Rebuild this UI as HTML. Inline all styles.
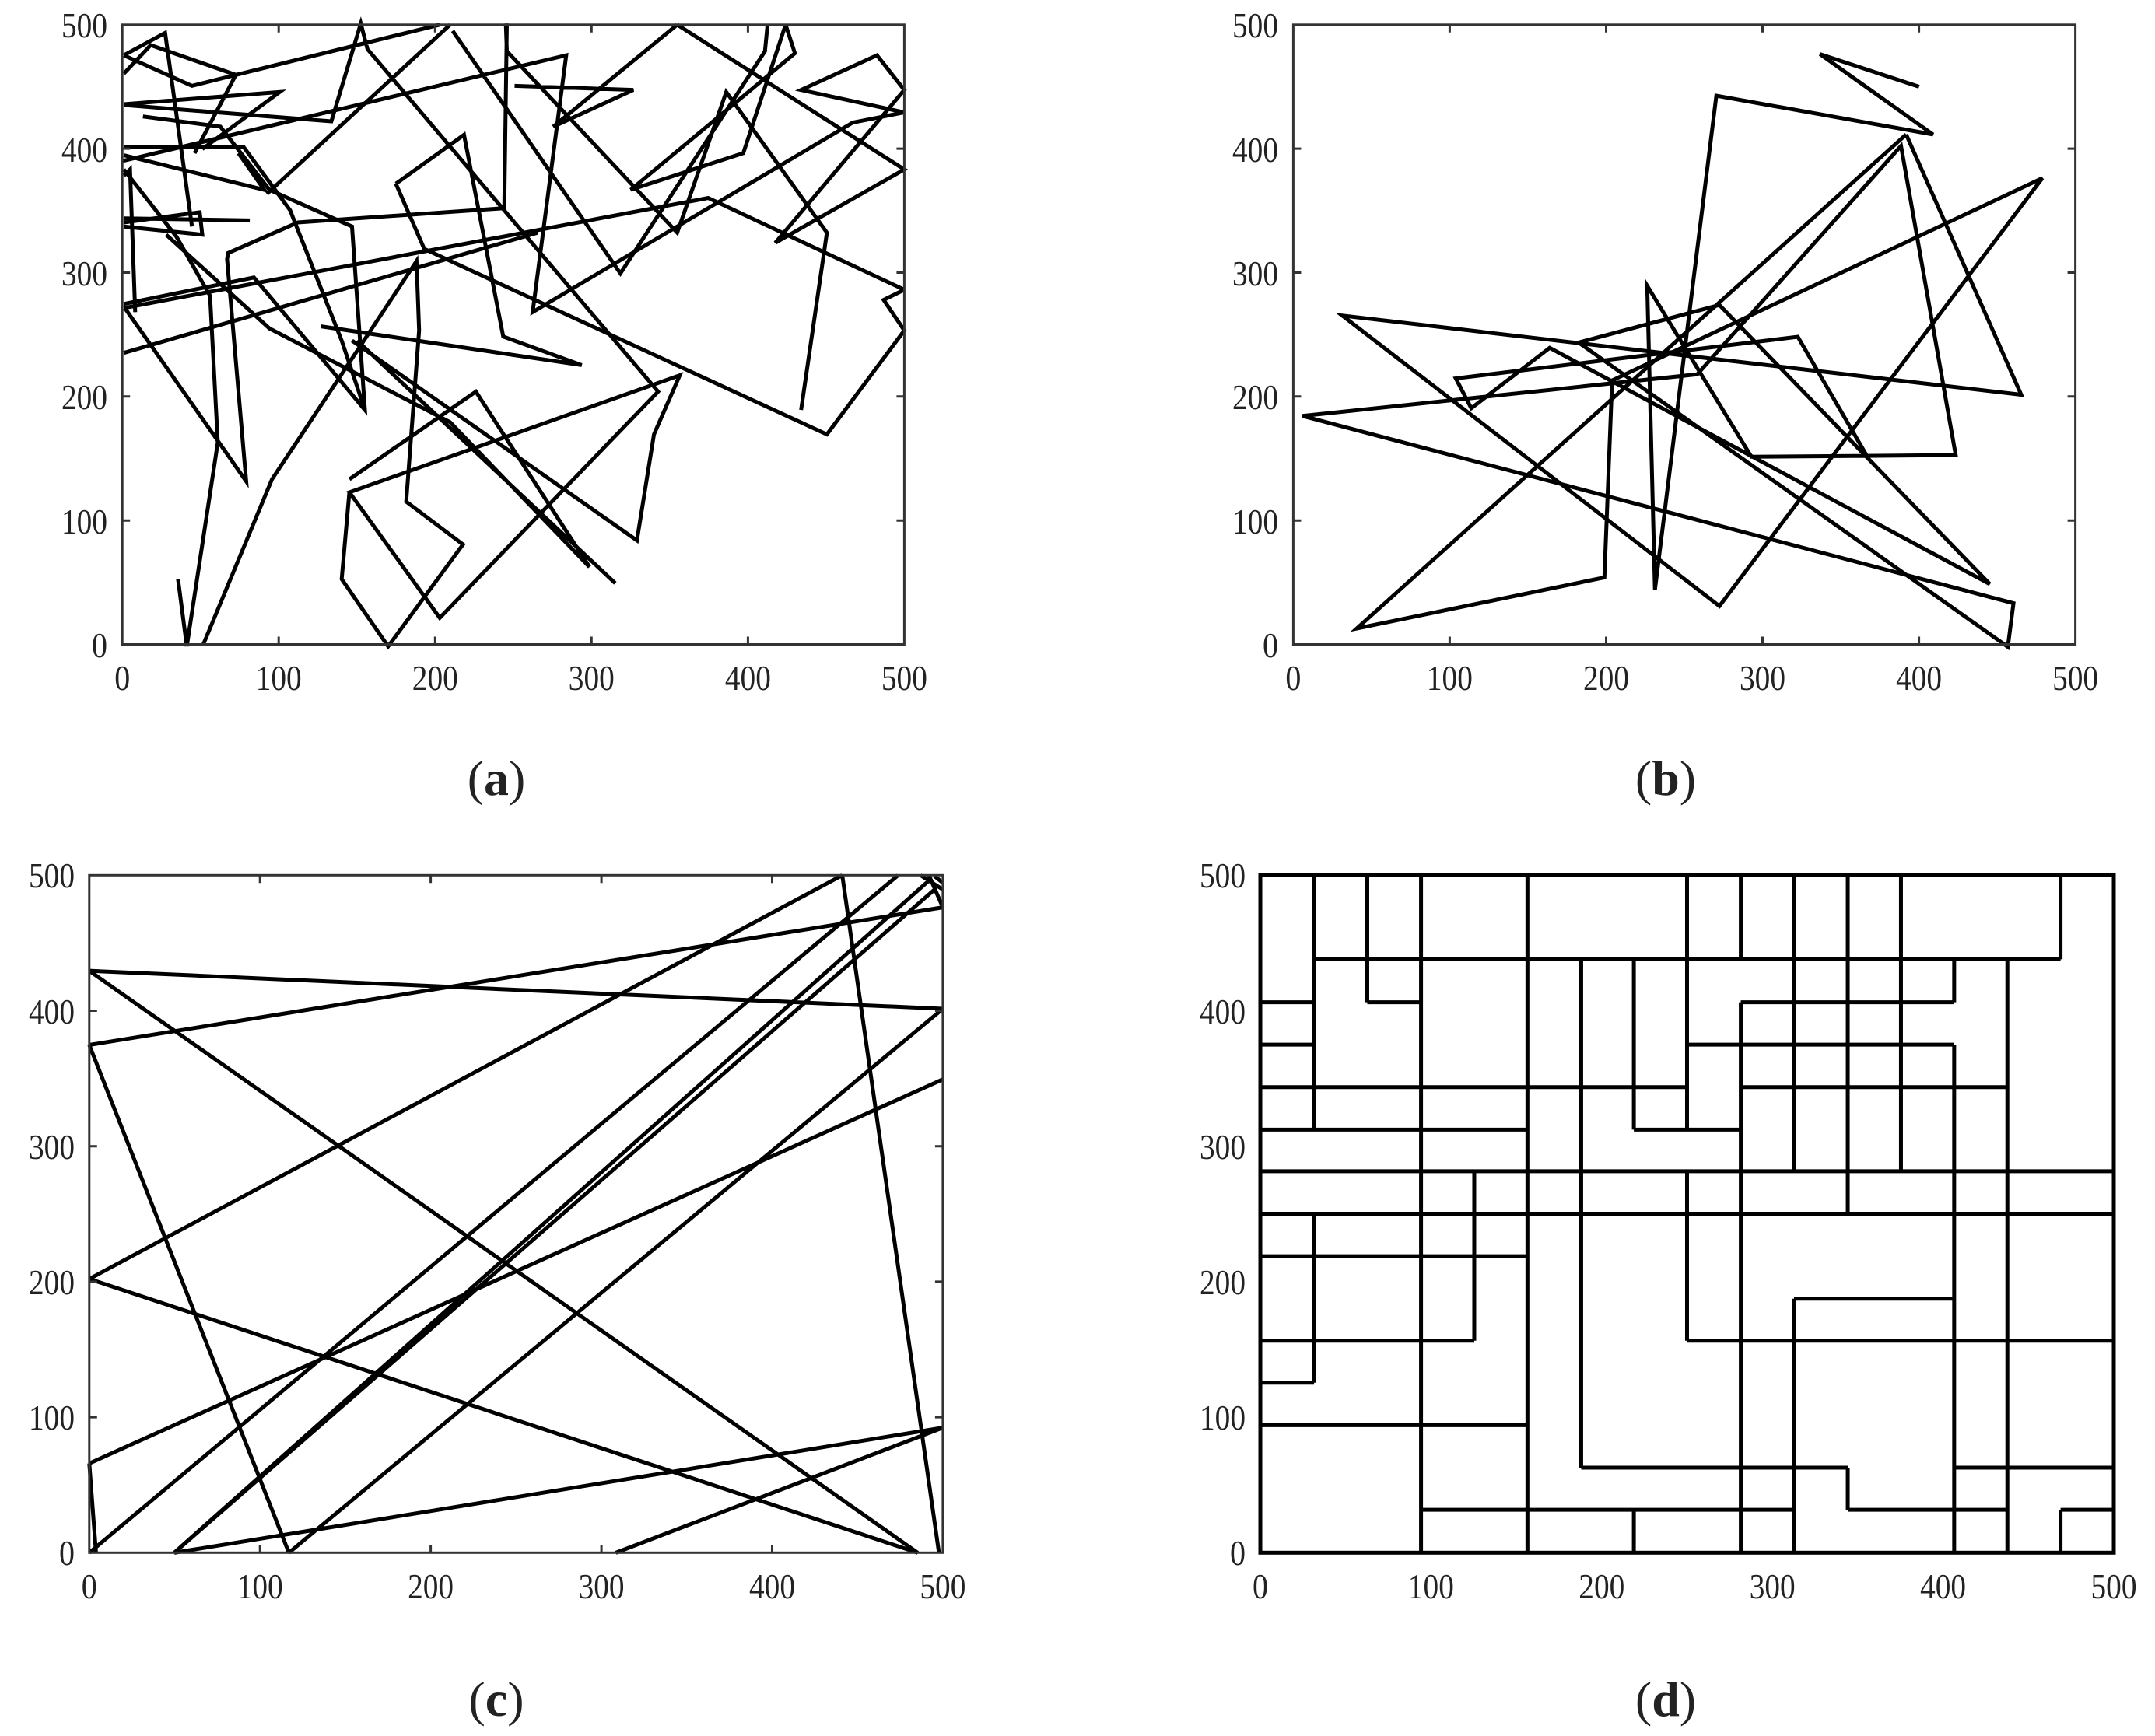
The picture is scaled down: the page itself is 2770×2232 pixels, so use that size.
<!DOCTYPE html>
<html><head><meta charset="utf-8"><style>
html,body{margin:0;padding:0;background:#fff}
svg{display:block}
text{font-family:"Liberation Serif",serif;fill:#222}
.l path{fill:none;stroke:#000;stroke-width:5;vector-effect:non-scaling-stroke;stroke-linejoin:miter;stroke-linecap:butt}
.fr{fill:none;stroke:#333;stroke-width:3}
.tk{stroke:#333;stroke-width:3}
</style></head><body>
<svg width="2770" height="2232" viewBox="0 0 2770 2232" xmlns="http://www.w3.org/2000/svg">
<rect width="2770" height="2232" fill="#fff"/>

<!-- Panel (a) -->
<g class="l" transform="translate(157.2,31.8) scale(0.6635,0.5241) translate(-25,-25)">
<path d="M28,145 L80,75 L245,148 L160,175 L28,100 M28,100 L108,45 L160,520 M245,148 L640,25 M245,148 L165,340 M28,220 L330,190 L180,330 M28,222 L430,262 L487,22 L500,85 L1063,925 L640,1480 L465,1172 L1105,885 L1055,1030 L1022,1290 L470,800 M28,325 L260,325 L350,480 L450,800 L495,970 M23,360 L885,100 L820,730 L1440,265 L1540,240 M660,25 L305,440 M665,40 L990,635 L1270,90 L1275,25 M1310,25 L1328,95 L1010,430 L1228,340 L1310,25 M768,22 L770,90 L1100,535 L1195,190 L1390,535 L1340,970 M1100,25 L860,275 L1015,185 L785,175 M1100,25 L1540,380 L1290,560 L1540,185 L1487,100 L1340,185 L1540,240 M555,415 L687,295 L763,790 L915,860 L410,765 M555,415 L610,575 L1390,1030 L1540,775 L1500,700 L1540,675 M770,22 L765,475 L365,510 L230,585 L228,600 L265,1145 L30,720 M28,710 L280,645 L495,970 L470,520 L310,430 L215,275 L65,250 M28,830 L830,535 M28,720 L1160,450 L1540,675 M28,500 L272,505 M28,510 L175,485 L180,540 L28,520 M150,1550 L210,1050 L195,690 L130,545 L28,380 M182,1545 L315,1140 L595,605 L600,775 L575,1195 L685,1300 L540,1550 L450,1385 L465,1170 M133,1385 L150,1550 M465,1140 L710,925 L930,1355 L660,1000 L310,770 L110,540 M980,1395 L480,800 M28,395 L40,380 L50,730 M28,345 L300,430 L250,340"/>
</g>
<rect class="fr" x="157.2" y="31.8" width="1005.2" height="796.7"/>
<path class="tk" d="M358.2,828.5v-10M559.3,828.5v-10M760.3,828.5v-10M961.4,828.5v-10M358.2,31.8v10M559.3,31.8v10M760.3,31.8v10M961.4,31.8v10M157.2,669.2h10M157.2,509.8h10M157.2,350.5h10M157.2,191.1h10M1162.4,669.2h-10M1162.4,509.8h-10M1162.4,350.5h-10M1162.4,191.1h-10"/>

<!-- Panel (b) -->
<g class="l" transform="translate(1662.4,31.8) scale(0.6631,0.5245) translate(-22,-28)">
<path d="M1235,180 L1043,100 L1262,297 L842,202 L723,1413 L708,668 L910,1087 L1306,1083 L1200,325 L805,885 L40,987 L1418,1446 L1407,1553 L575,807 L848,715 L1372,1399 L519,820 L367,968 L337,895 L1000,793 L1133,1083 M1210,297 L1433,935 L117,741 L848,1453 L1474,404 L640,900 L625,1383 L145,1508 L1210,297"/>
</g>
<rect class="fr" x="1662.4" y="31.8" width="1005.2" height="796.7"/>
<path class="tk" d="M1863.4,828.5v-10M2064.5,828.5v-10M2265.5,828.5v-10M2466.6,828.5v-10M1863.4,31.8v10M2064.5,31.8v10M2265.5,31.8v10M2466.6,31.8v10M1662.4,669.2h10M1662.4,509.8h10M1662.4,350.5h10M1662.4,191.1h10M2667.6,669.2h-10M2667.6,509.8h-10M2667.6,350.5h-10M2667.6,191.1h-10"/>

<!-- Panel (c) -->
<g class="l" transform="translate(114.8,1125.3) scale(0.7185,0.5742) translate(-18,-28)">
<path d="M18,242 L1545,327 M18,242 L1500,1545 M18,408 L1545,100 M18,408 L375,1545 M18,932 L1365,28 M18,932 L1500,1545 M1365,28 L1538,1545 M18,1345 L1545,485 M18,1345 L30,1545 M18,1545 L1465,28 M170,1545 L1520,40 M170,1545 L1532,58 M170,1545 L1545,1265 M375,1545 L1545,327 M960,1545 L1545,1265 M1520,28 L1545,100 M1505,28 L1545,60 M1530,30 L1545,45"/>
</g>
<rect class="fr" x="114.8" y="1125.3" width="1097.1" height="871"/>
<path class="tk" d="M334.2,1996.3v-10M553.6,1996.3v-10M773.1,1996.3v-10M992.5,1996.3v-10M334.2,1125.3v10M553.6,1125.3v10M773.1,1125.3v10M992.5,1125.3v10M114.8,1822.1h10M114.8,1647.9h10M114.8,1473.7h10M114.8,1299.5h10M1211.9,1822.1h-10M1211.9,1647.9h-10M1211.9,1473.7h-10M1211.9,1299.5h-10"/>

<!-- Panel (d) -->
<g class="l" transform="translate(1620,1125.3) scale(0.7198,0.5749) translate(-28,-28)">
<path d="M124,216H1457 M28,312H124 M219,312H315 M886,312H1267 M28,407H124 M790,407H1267 M28,502H790 M886,502H1362 M28,597H505 M695,597H886 M28,690H1552 M28,785H1552 M28,880H505 M981,975H1267 M28,1069H410 M790,1069H1552 M28,1163H124 M28,1258H505 M601,1353H1077 M1267,1353H1552 M315,1447H981 M1077,1447H1362 M1457,1447H1552
M124,28V597 M124,785V1163 M219,28V312 M315,28V1543 M410,690V1069 M505,28V1543 M601,216V1353 M695,216V597 M695,1447V1543 M790,28V597 M790,690V1069 M886,28V216 M886,312V1543 M981,28V690 M981,975V1543 M1077,28V785 M1077,1353V1447 M1172,28V690 M1267,216V312 M1267,407V1543 M1362,216V1543 M1457,28V216 M1457,1447V1543"/>
</g>
<rect x="1620" y="1125.3" width="1097" height="871" fill="none" stroke="#000" stroke-width="5"/>

<!-- Tick labels -->
<g font-size="46">
<!-- a x -->
<text x="157.2" y="887" text-anchor="middle" textLength="20" lengthAdjust="spacingAndGlyphs">0</text>
<text x="358.2" y="887" text-anchor="middle" textLength="59" lengthAdjust="spacingAndGlyphs">100</text>
<text x="559.3" y="887" text-anchor="middle" textLength="59" lengthAdjust="spacingAndGlyphs">200</text>
<text x="760.3" y="887" text-anchor="middle" textLength="59" lengthAdjust="spacingAndGlyphs">300</text>
<text x="961.4" y="887" text-anchor="middle" textLength="59" lengthAdjust="spacingAndGlyphs">400</text>
<text x="1162.4" y="887" text-anchor="middle" textLength="59" lengthAdjust="spacingAndGlyphs">500</text>
<!-- a y -->
<text x="138" y="845" text-anchor="end" textLength="20" lengthAdjust="spacingAndGlyphs">0</text>
<text x="138" y="686" text-anchor="end" textLength="59" lengthAdjust="spacingAndGlyphs">100</text>
<text x="138" y="526" text-anchor="end" textLength="59" lengthAdjust="spacingAndGlyphs">200</text>
<text x="138" y="367" text-anchor="end" textLength="59" lengthAdjust="spacingAndGlyphs">300</text>
<text x="138" y="208" text-anchor="end" textLength="59" lengthAdjust="spacingAndGlyphs">400</text>
<text x="138" y="48" text-anchor="end" textLength="59" lengthAdjust="spacingAndGlyphs">500</text>
<!-- b x -->
<text x="1662.4" y="887" text-anchor="middle" textLength="20" lengthAdjust="spacingAndGlyphs">0</text>
<text x="1863.4" y="887" text-anchor="middle" textLength="59" lengthAdjust="spacingAndGlyphs">100</text>
<text x="2064.5" y="887" text-anchor="middle" textLength="59" lengthAdjust="spacingAndGlyphs">200</text>
<text x="2265.5" y="887" text-anchor="middle" textLength="59" lengthAdjust="spacingAndGlyphs">300</text>
<text x="2466.6" y="887" text-anchor="middle" textLength="59" lengthAdjust="spacingAndGlyphs">400</text>
<text x="2667.6" y="887" text-anchor="middle" textLength="59" lengthAdjust="spacingAndGlyphs">500</text>
<!-- b y -->
<text x="1643" y="845" text-anchor="end" textLength="20" lengthAdjust="spacingAndGlyphs">0</text>
<text x="1643" y="686" text-anchor="end" textLength="59" lengthAdjust="spacingAndGlyphs">100</text>
<text x="1643" y="526" text-anchor="end" textLength="59" lengthAdjust="spacingAndGlyphs">200</text>
<text x="1643" y="367" text-anchor="end" textLength="59" lengthAdjust="spacingAndGlyphs">300</text>
<text x="1643" y="208" text-anchor="end" textLength="59" lengthAdjust="spacingAndGlyphs">400</text>
<text x="1643" y="48" text-anchor="end" textLength="59" lengthAdjust="spacingAndGlyphs">500</text>
<!-- c x -->
<text x="114.8" y="2055" text-anchor="middle" textLength="20" lengthAdjust="spacingAndGlyphs">0</text>
<text x="334.2" y="2055" text-anchor="middle" textLength="59" lengthAdjust="spacingAndGlyphs">100</text>
<text x="553.6" y="2055" text-anchor="middle" textLength="59" lengthAdjust="spacingAndGlyphs">200</text>
<text x="773.1" y="2055" text-anchor="middle" textLength="59" lengthAdjust="spacingAndGlyphs">300</text>
<text x="992.5" y="2055" text-anchor="middle" textLength="59" lengthAdjust="spacingAndGlyphs">400</text>
<text x="1211.9" y="2055" text-anchor="middle" textLength="59" lengthAdjust="spacingAndGlyphs">500</text>
<!-- c y -->
<text x="96" y="2012" text-anchor="end" textLength="20" lengthAdjust="spacingAndGlyphs">0</text>
<text x="96" y="1838" text-anchor="end" textLength="59" lengthAdjust="spacingAndGlyphs">100</text>
<text x="96" y="1664" text-anchor="end" textLength="59" lengthAdjust="spacingAndGlyphs">200</text>
<text x="96" y="1490" text-anchor="end" textLength="59" lengthAdjust="spacingAndGlyphs">300</text>
<text x="96" y="1316" text-anchor="end" textLength="59" lengthAdjust="spacingAndGlyphs">400</text>
<text x="96" y="1141" text-anchor="end" textLength="59" lengthAdjust="spacingAndGlyphs">500</text>
<!-- d x -->
<text x="1620" y="2055" text-anchor="middle" textLength="20" lengthAdjust="spacingAndGlyphs">0</text>
<text x="1839.4" y="2055" text-anchor="middle" textLength="59" lengthAdjust="spacingAndGlyphs">100</text>
<text x="2058.8" y="2055" text-anchor="middle" textLength="59" lengthAdjust="spacingAndGlyphs">200</text>
<text x="2278.2" y="2055" text-anchor="middle" textLength="59" lengthAdjust="spacingAndGlyphs">300</text>
<text x="2497.6" y="2055" text-anchor="middle" textLength="59" lengthAdjust="spacingAndGlyphs">400</text>
<text x="2717" y="2055" text-anchor="middle" textLength="59" lengthAdjust="spacingAndGlyphs">500</text>
<!-- d y -->
<text x="1601" y="2012" text-anchor="end" textLength="20" lengthAdjust="spacingAndGlyphs">0</text>
<text x="1601" y="1838" text-anchor="end" textLength="59" lengthAdjust="spacingAndGlyphs">100</text>
<text x="1601" y="1664" text-anchor="end" textLength="59" lengthAdjust="spacingAndGlyphs">200</text>
<text x="1601" y="1490" text-anchor="end" textLength="59" lengthAdjust="spacingAndGlyphs">300</text>
<text x="1601" y="1316" text-anchor="end" textLength="59" lengthAdjust="spacingAndGlyphs">400</text>
<text x="1601" y="1141" text-anchor="end" textLength="59" lengthAdjust="spacingAndGlyphs">500</text>
</g>

<!-- Captions -->
<g font-size="64">
<text x="638" y="1022" text-anchor="middle">(<tspan font-weight="bold">a</tspan>)</text>
<text x="2141" y="1022" text-anchor="middle">(<tspan font-weight="bold">b</tspan>)</text>
<text x="638" y="2206" text-anchor="middle">(<tspan font-weight="bold">c</tspan>)</text>
<text x="2141" y="2206" text-anchor="middle">(<tspan font-weight="bold">d</tspan>)</text>
</g>
</svg>
</body></html>
